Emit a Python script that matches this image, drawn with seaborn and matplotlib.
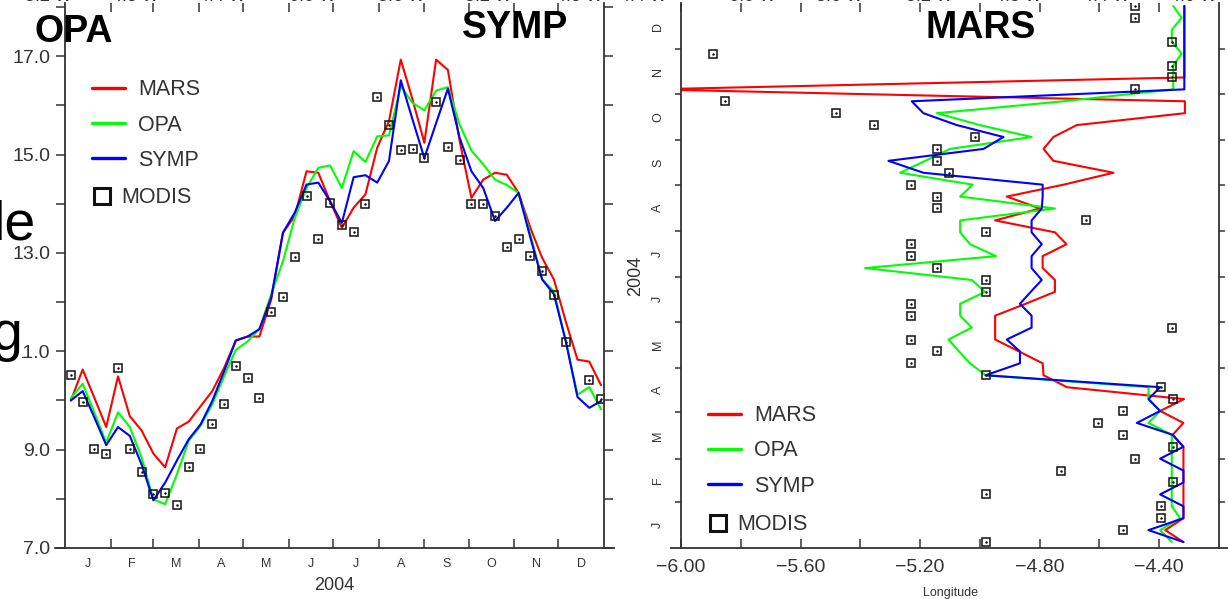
import numpy as np
import pandas as pd
import matplotlib
matplotlib.use("Agg")
import matplotlib.pyplot as plt
import seaborn as sns
from matplotlib.lines import Line2D
from matplotlib.ticker import FixedLocator, FixedFormatter, NullFormatter, FuncFormatter
from matplotlib.font_manager import FontProperties

# ---------------- data ----------------
# 8-day composites, day of year 2004 (centre of composite)
days = [4, 12, 20, 28, 36, 44, 52, 60, 68, 76, 84, 92, 100, 108, 116, 124,
        132, 140, 148, 156, 164, 172, 180, 188, 196, 204, 212, 220, 228, 236,
        244, 252, 260, 268, 276, 284, 292, 300, 308, 316, 324, 332, 340, 348,
        356, 364]

models = ["MARS", "OPA", "SYMP"]
colors = ["#ff0000", "#00ff00", "#0000ff"]

# left panel: temperature time series
mars_sst = [10.00, 10.63, 10.05, 9.46, 10.49, 9.68, 9.39, 8.92, 8.64, 9.43,
            9.57, 9.88, 10.19, 10.66, 11.22, 11.30, 11.30, 12.05, 13.41, 13.75,
            14.66, 14.63, 14.05, 13.51, 13.92, 14.19, 15.14, 15.68, 16.93, 16.12,
            15.24, 16.93, 16.72, 15.27, 14.12, 14.49, 14.63, 14.59, 14.22, 13.51,
            12.90, 12.46, 11.61, 10.83, 10.79, 10.31]
opa_sst = [10.05, 10.34, 9.75, 9.14, 9.76, 9.46, 8.84, 7.99, 7.89, 8.50,
           9.18, 9.48, 9.92, 10.49, 11.03, 11.20, 11.45, 12.16, 12.83, 13.71,
           14.32, 14.73, 14.78, 14.32, 15.07, 14.85, 15.37, 15.39, 16.39, 16.05,
           15.90, 16.30, 16.37, 15.61, 15.08, 14.80, 14.49, 14.38, 14.22, 13.38,
           12.46, 12.22, 11.21, 10.12, 10.27, 9.82]
symp_sst = [10.00, 10.19, 9.65, 9.09, 9.46, 9.28, 8.70, 7.97, 8.33, 8.78,
            9.21, 9.51, 9.99, 10.59, 11.22, 11.30, 11.45, 12.09, 13.41, 13.82,
            14.39, 14.43, 14.05, 13.61, 14.54, 14.58, 14.43, 14.87, 16.51, 15.71,
            14.93, 15.64, 16.34, 15.34, 14.66, 14.32, 13.65, 13.92, 14.22, 13.31,
            12.46, 12.16, 11.21, 10.07, 9.85, 9.99]
modis_sst = [10.51, 9.97, 9.02, 8.92, 10.66, 9.01, 8.55, 8.09, 8.11, 7.88,
             8.65, 9.01, 9.53, 9.93, 10.71, 10.46, 10.05, 11.80, 12.11, 12.91,
             14.15, 13.29, 14.02, 13.57, 13.42, 14.00, 16.17, 15.61, 15.10, 15.12,
             14.92, 16.07, 15.16, 14.88, 14.00, 14.00, 13.76, 13.12, 13.29, 12.93,
             12.63, 12.14, 11.19, np.nan, 10.41, 10.02]

# right panel: longitude of the feature versus time
mars_lon = [-4.319, -4.380, -4.319, -4.319, -4.319, -4.319, -4.319, -4.319, -4.319, -4.355,
            -4.319, -4.397, -4.317, -4.709, -4.787, -4.790, -4.869, -4.949, -4.949, -4.949,
            -4.847, -4.749, -4.749, -4.790, -4.790, -4.710, -4.749, -4.949, -4.799, -4.910,
            -4.720, -4.553, -4.754, -4.787, -4.754, -4.676, -4.314, -4.314, -6.100, -4.316,
            -4.316, -4.316, -4.316, -4.316, -4.316, -4.316]
opa_lon = [-4.358, -4.397, -4.330, -4.358, -4.358, -4.358, -4.358, -4.358, -4.358, -4.358,
           -4.436, -4.397, -4.436, -4.436, -4.981, -5.033, -5.070, -5.105, -5.027, -5.066,
           -5.066, -4.983, -5.027, -5.384, -4.946, -5.033, -5.066, -5.066, -4.749, -5.066,
           -5.024, -5.267, -5.183, -5.100, -4.827, -5.000, -5.144, -4.720, -4.353, -4.353,
           -4.353, -4.325, -4.358, -4.358, -4.325, -4.353]
symp_lon = [-4.319, -4.436, -4.319, -4.319, -4.397, -4.319, -4.319, -4.397, -4.319, -4.355,
            -4.475, -4.397, -4.436, -4.397, -4.981, -4.866, -4.866, -4.910, -4.827, -4.827,
            -4.866, -4.830, -4.793, -4.827, -4.827, -4.793, -4.827, -4.827, -4.793, -4.790,
            -4.790, -5.189, -5.306, -4.988, -4.921, -5.077, -5.189, -5.228, -4.316, -4.316,
            -4.316, -4.316, -4.316, -4.316, -4.316, -4.316]
modis_lon = [-4.979, -4.520, -4.395, -4.395, -4.979, -4.355, -4.730, -4.480, -4.355, -4.520,
             -4.605, -4.520, -4.355, -4.395, -4.979, -5.229, -5.144, -5.229, -4.356, -5.229,
             -5.229, -4.979, -4.979, -5.144, -5.229, -5.229, -4.979, -4.645, -5.144, -5.144,
             -5.229, -5.105, -5.144, -5.144, -5.018, -5.353, -5.481, -5.853, -4.481, -4.356,
             -4.356, -5.894, -4.356, np.nan, -4.481, -4.481]

month_letters = ["J", "F", "M", "A", "M", "J", "J", "A", "S", "O", "N", "D"]
month_starts = [0, 31, 60, 91, 121, 152, 182, 213, 244, 274, 305, 335, 366]
lon_major = [-6.0, -5.6, -5.2, -4.8, -4.4]
lon_minor = [-5.8, -5.4, -5.0, -4.6]
sst_major = [7, 9, 11, 13, 15, 17]
sst_minor = [8, 10, 12, 14, 16, 18]

# cropped fragments of neighbouring panels in the screenshot
top_left_labels = ["5.2 W", "4.8 W", "4.4 W", "6.0 W", "5.6 W", "5.2 W", "4.8 W"]
top_right_labels = ["4.4 W", "6.0 W", "5.6 W", "5.2 W", "4.8 W", "4.4 W", "4.0 W"]

# ---------------- style ----------------
sns.set_theme(style="white")
plt.rcParams["font.family"] = ["Liberation Sans", "DejaVu Sans"]
plt.rcParams["axes.unicode_minus"] = True
TXT = "#333333"
palette = dict(zip(models, colors))

W, H = 1228, 599
fig = plt.figure(figsize=(W / 100, H / 100), dpi=100)


def fx(px):
    return px / W


def fy(py):
    return 1 - py / H


ax1 = fig.add_axes([fx(65), fy(548), fx(604) - fx(65), fy(3) - fy(548)])
ax2 = fig.add_axes([fx(681), fy(548), fx(1219) - fx(681), fy(3) - fy(548)])

# ---------------- left panel ----------------
left_df = pd.DataFrame({
    "day": days * 3,
    "sst": mars_sst + opa_sst + symp_sst,
    "model": sum([[m] * len(days) for m in models], []),
})
sns.lineplot(data=left_df, x="day", y="sst", hue="model", hue_order=models,
             palette=palette, estimator=None, sort=False, lw=1.5,
             legend=False, ax=ax1)
sns.lineplot(x=days, y=modis_sst, ax=ax1, estimator=None, sort=False,
             marker="s", ms=6, mfc="none", mec="#111111", mew=1.1,
             linestyle="none", legend=False)
sns.lineplot(x=days, y=modis_sst, ax=ax1, estimator=None, sort=False,
             marker=".", ms=2, mfc="#111111", mec="#111111",
             linestyle="none", legend=False)

ax1.set_xlim(0, 366)
ax1.set_ylim(7, 7 + 545 / 49.18)
mids = [(a + b) / 2 for a, b in zip(month_starts[:-1], month_starts[1:])]
ax1.xaxis.set_major_locator(FixedLocator(month_starts[1:-1]))
ax1.xaxis.set_major_formatter(NullFormatter())
ax1.xaxis.set_minor_locator(FixedLocator(mids))
ax1.xaxis.set_minor_formatter(FixedFormatter(month_letters))
ax1.tick_params(axis="x", which="major", direction="in", length=6.5, width=1.1,
                color=TXT, bottom=True, top=True)
ax1.tick_params(axis="x", which="minor", length=0, pad=7.5, labelsize=9,
                labelcolor=TXT, bottom=True)
ax1.yaxis.set_major_locator(FixedLocator(sst_major))
ax1.yaxis.set_major_formatter(FuncFormatter(lambda v, p: f"{v:.1f}"))
ax1.yaxis.set_minor_locator(FixedLocator(sst_minor))
ax1.tick_params(axis="y", which="both", direction="out", length=6.5, width=1.1,
                color=TXT, left=True, right=True, labelsize=14, labelcolor=TXT,
                pad=4)
ax1.set_xlabel("2004", fontsize=13, color=TXT, labelpad=5)
ax1.set_ylabel("")

# ---------------- right panel ----------------
right_df = pd.DataFrame({
    "lon": mars_lon + opa_lon + symp_lon,
    "day": days * 3,
    "model": sum([[m] * len(days) for m in models], []),
})
sns.lineplot(data=right_df, x="lon", y="day", hue="model", hue_order=models,
             palette=palette, estimator=None, sort=False, orient="y", lw=1.5,
             legend=False, ax=ax2)
sns.lineplot(x=modis_lon, y=days, ax=ax2, estimator=None, sort=False, orient="y",
             marker="s", ms=6, mfc="none", mec="#111111", mew=1.1,
             linestyle="none", legend=False)
sns.lineplot(x=modis_lon, y=days, ax=ax2, estimator=None, sort=False, orient="y",
             marker=".", ms=2, mfc="#111111", mec="#111111",
             linestyle="none", legend=False)

ax2.set_xlim(-6.0, -4.2)
ax2.set_ylim(0, 366)
ax2.xaxis.set_major_locator(FixedLocator(lon_major))
ax2.xaxis.set_major_formatter(FuncFormatter(lambda v, p: f"{v:.2f}".replace("-", "\u2212")))
ax2.xaxis.set_minor_locator(FixedLocator(lon_minor))
ax2.tick_params(axis="x", which="both", direction="in", length=6.5, width=1.1,
                color=TXT, bottom=True, top=True, labelsize=14, labelcolor=TXT, pad=8)
ax2.yaxis.set_major_locator(FixedLocator(month_starts[1:-1]))
ax2.yaxis.set_major_formatter(NullFormatter())
ax2.yaxis.set_minor_locator(FixedLocator(mids))
ax2.yaxis.set_minor_formatter(FixedFormatter(month_letters))
ax2.tick_params(axis="y", which="major", direction="out", length=4, width=1.1,
                color=TXT, left=True, right=True)
ax2.tick_params(axis="y", which="minor", length=0, pad=12, labelsize=9,
                labelcolor=TXT, labelrotation=90, left=True)
for lab in ax2.yaxis.get_minorticklabels():
    lab.set_verticalalignment("center")
ax2.set_xlabel("Longitude", fontsize=9, color=TXT, labelpad=8)
ax2.set_ylabel("2004", fontsize=13, color=TXT, labelpad=6)

for ax, lo, hi in ((ax1, -7, 373), (ax2, -6.035, -4.165)):
    ax.spines["top"].set_visible(False)
    for s in ("left", "right", "bottom"):
        ax.spines[s].set_color(TXT)
        ax.spines[s].set_linewidth(1.3)
    ax.spines["bottom"].set_bounds(lo, hi)
    ax.grid(False)

# ---------------- legends ----------------
leg_font = FontProperties(family=["Liberation Sans Narrow", "Liberation Sans"], size=15.5)
line_handles = [Line2D([], [], color=c, lw=2.4) for c in colors]
modis_handle = Line2D([], [], marker="s", ms=11, mfc="none", mec="#111111",
                      mew=2.2, linestyle="none")

for ax, (lx, ly), (mx, my) in ((ax1, (0.05, 0.860), (0.052, 0.662)),
                               (ax2, (0.05, 0.262), (0.052, 0.062))):
    l1 = ax.legend(line_handles, models, loc="upper left", bbox_to_anchor=(lx, ly),
                   frameon=False, handlelength=1.55, handletextpad=0.6,
                   labelspacing=0.66, borderpad=0, borderaxespad=0,
                   prop=leg_font, labelcolor=TXT)
    ax.add_artist(l1)
    l2 = ax.legend([modis_handle], ["MODIS"], loc="upper left", bbox_to_anchor=(mx, my),
                   frameon=False, handlelength=0.85, handletextpad=0.45,
                   borderpad=0, borderaxespad=0, prop=leg_font, labelcolor=TXT)

# ---------------- overlay texts (screenshot fragments) ----------------
bold = dict(fontsize=27, fontweight="bold", color="black", va="baseline")
fig.text(fx(35), fy(42), "OPA", **bold)
fig.text(fx(462), fy(38), "SYMP", **bold)
fig.text(fx(925), fy(38), "MARS", **bold)

fig.text(fx(36), fy(240), "le", ha="right", va="baseline", fontsize=40, color="black")
fig.text(fx(22), fy(350), "g", ha="right", va="baseline", fontsize=40, color="black",
         bbox=dict(fc="white", ec="none", pad=0))

for xpix, lab in zip([48, 135, 222, 313, 401, 488, 579], top_left_labels):
    fig.text(fx(xpix), fy(5), lab, ha="center", va="bottom", fontsize=13, color=TXT)
for xpix, lab in zip([643, 753, 839, 929, 1018, 1106, 1194], top_right_labels):
    fig.text(fx(xpix), fy(5), lab, ha="center", va="bottom", fontsize=13, color=TXT)

fig.savefig("out.png", dpi=100)
